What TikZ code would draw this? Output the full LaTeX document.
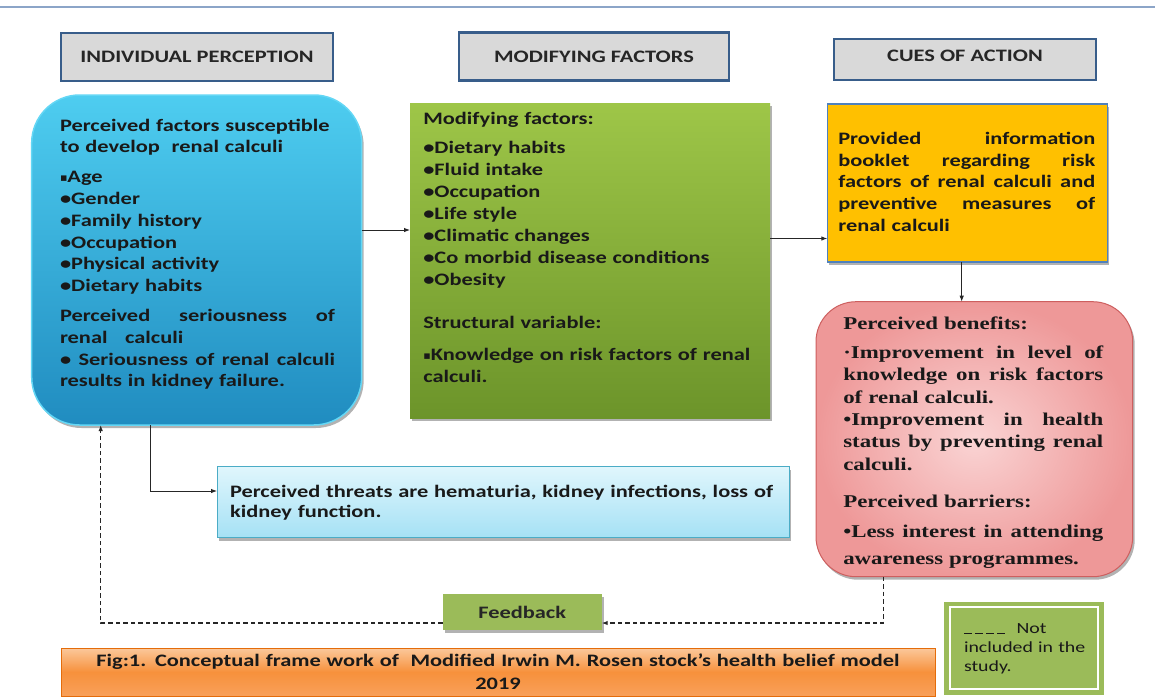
\documentclass[tikz,border=0pt]{standalone}
\usepackage{fontspec}
\usetikzlibrary{shadows,arrows.meta}
\newfontfamily\calfont{Carlito}[FakeStretch=1.28]
\newfontfamily\tmsfont{Liberation Serif}[FakeStretch=1.27]
\newfontfamily\dvfont{DejaVu Sans}
\newcommand\sqb{{\dvfont\fontsize{11}{11}\selectfont\raisebox{1pt}{▪}}}
\newcommand\jst[2]{{\spaceskip=0.25em plus 1fil\relax\xspaceskip=\spaceskip\makebox[#1][s]{#2}}}
\newcommand\usc{\rule[-1pt]{7.5pt}{1.1pt}}
\definecolor{hdrfill}{RGB}{217,217,217}
\definecolor{hdrline}{RGB}{56,93,138}
\definecolor{blueTop}{RGB}{78,205,240}
\definecolor{blueBot}{RGB}{32,140,192}
\definecolor{blueLine}{RGB}{100,215,245}
\definecolor{greenTop}{RGB}{158,198,72}
\definecolor{greenBot}{RGB}{108,148,42}
\definecolor{orangeFill}{RGB}{255,192,0}
\definecolor{orangeLine}{RGB}{79,129,189}
\definecolor{pinkIn}{RGB}{250,212,212}
\definecolor{pinkOut}{RGB}{238,152,152}
\definecolor{pinkLine}{RGB}{205,95,95}
\definecolor{thrTop}{RGB}{224,246,252}
\definecolor{thrBot}{RGB}{165,225,245}
\definecolor{thrLine}{RGB}{75,172,198}
\definecolor{fbFill}{RGB}{155,187,89}
\definecolor{capTop}{RGB}{251,200,155}
\definecolor{capMid}{RGB}{247,145,60}
\definecolor{capBot}{RGB}{248,160,90}
\definecolor{capLine}{RGB}{228,108,10}
\definecolor{topLine}{RGB}{140,165,200}
\tikzset{
  shp/.style={inner sep=0pt, outer sep=0pt, anchor=north west},
  shd/.style={drop shadow={shadow xshift=2pt, shadow yshift=-3pt, opacity=.3, fill=black}},
  hdr/.style={shp, fill=hdrfill, draw=hdrline, line width=2.2pt,
    font=\calfont\bfseries\fontsize{17.5}{21}\selectfont, text=black!85},
  bluebox/.style={shp, shd, rounded corners=48pt, top color=blueTop, bottom color=blueBot, draw=blueLine, line width=1.5pt},
  greenbox/.style={shp, shd, top color=greenTop, bottom color=greenBot},
  orangebox/.style={shp, shd, fill=orangeFill, draw=orangeLine, line width=1.5pt},
  pinkbox/.style={shp, shd, rounded corners=40pt, inner color=pinkIn, outer color=pinkOut, draw=pinkLine, line width=1pt},
  threatbox/.style={shp, shd, top color=thrTop, bottom color=thrBot, draw=thrLine, line width=1pt},
  fbbox/.style={shp, shd, fill=fbFill, font=\calfont\bfseries\fontsize{17.5}{21}\selectfont, text=black!85},
  capbox/.style={shp, top color=capTop, bottom color=capBot, middle color=capMid, draw=capLine, line width=1pt},
  legbox/.style={shp, fill=fbFill},
  txt/.style={anchor=base west, inner sep=0pt, outer sep=0pt, align=left, text=black!90,
    font=\calfont\bfseries\fontsize{17.5}{21.8}\selectfont},
  arr/.style={draw=black!85, line width=0.9pt, -{Latex[length=6pt,width=4.5pt]}},
  dsh/.style={draw=black!85, line width=1.2pt, dash pattern=on 4.5pt off 3pt, -{Latex[length=6pt,width=4.5pt]}},
}
\begin{document}
\begin{tikzpicture}[x=1pt,y=-1pt]
\useasboundingbox (0,0) rectangle (1155,697);
\fill[white] (0,0) rectangle (1155,697);
\draw[topLine, line width=1.6pt] (0,7) -- (1155,7);

% headers
\node[hdr, minimum width=272pt, minimum height=48pt] (h1) at (61,32.7) {INDIVIDUAL PERCEPTION};
\node[hdr, minimum width=270pt, minimum height=48pt] (h2) at (459,32.5) {MODIFYING FACTORS};
\node[hdr, minimum width=262pt, minimum height=41pt, text depth=6.6pt] (h3) at (834,39) {CUES OF ACTION};

% main boxes
\node[bluebox, minimum width=330pt, minimum height=330pt] (blue) at (31.7,95) {};
\node[greenbox, minimum width=360pt, minimum height=315pt] (green) at (410,103.3) {};
\node[orangebox, minimum width=280pt, minimum height=158pt] (orange) at (827.3,104) {};
\node[pinkbox, minimum width=316.7pt, minimum height=275pt] (pink) at (816,301.7) {};
\node[threatbox, minimum width=572pt, minimum height=71pt] (threat) at (217,466.7) {};
\node[fbbox, minimum width=159pt, minimum height=36pt] (fb) at (442.7,594) {Feedback};
\node[capbox, minimum width=873.3pt, minimum height=48pt] (cap) at (61.7,648) {};
\node[legbox, minimum width=159.7pt, minimum height=93.3pt] (leg) at (944.3,601.7) {};
\node[shp, draw=white, line width=2pt, minimum width=148.3pt, minimum height=82pt] (leginner) at (950,607.3) {};

% texts
\node[txt, text width=277pt] (bluetxt) at (60,131) {Perceived factors susceptible\\
to develop\ \ renal calculi\\[8pt]
\sqb Age\\
•Gender\\
•Family history\\
•Occupation\\
•Physical activity\\
•Dietary habits\\[8pt]
\jst{275pt}{Perceived seriousness of}\\
renal\ \ \ calculi\\
\jst{275pt}{• Seriousness of renal calculi}\\
results in kidney failure.};

\node[txt, text width=340pt, font=\calfont\bfseries\fontsize{17.5}{22}\selectfont] (greentxt) at (423.3,124.3) {Modifying factors:\\[7pt]
•Dietary habits\\
•Fluid intake\\
•Occupation\\
•Life style\\
•Climatic changes\\
•Co morbid disease conditions\\
•Obesity\\[21pt]
Structural variable:\\[10pt]
\sqb Knowledge on risk factors of renal\\
calculi.};

\node[txt, text width=258pt] (orangetxt) at (838.3,144.3) {\jst{257pt}{Provided information}\\
\jst{257pt}{booklet regarding risk}\\
\jst{257pt}{factors of renal calculi and}\\
\jst{257pt}{preventive measures of}\\
renal calculi};

\node[txt, text width=262pt, font=\tmsfont\bfseries\fontsize{18}{22.3}\selectfont] (pinktxt) at (843.3,329.3) {Perceived benefits:\\[7pt]
\jst{260pt}{·Improvement in level of}\\
\jst{260pt}{knowledge on risk factors}\\
of renal calculi.\\
\jst{260pt}{•Improvement in health}\\
\jst{260pt}{status by preventing renal}\\
calculi.\\[15pt]
Perceived barriers:\\[8pt]
\jst{260pt}{•Less interest in attending}\\[4.5pt]
awareness programmes.};

\node[txt, text width=560pt, font=\calfont\bfseries\fontsize{17.5}{20.5}\selectfont] (threattxt) at (230,497) {Perceived threats are hematuria, kidney infections, loss of\\
kidney function.};

\node[txt, anchor=base, align=center, text width=860pt, font=\calfont\bfseries\fontsize{17.5}{23}\selectfont] (captxt) at (498,666) {Fig:1. Conceptual frame work of\ \ Modified Irwin M. Rosen stock’s health belief model\\
2019};

\node[txt, text width=140pt, font=\calfont\fontsize{15.5}{19}\selectfont] (legtxt) at (964,633) {\usc\hspace{3.5pt}\usc\hspace{3.5pt}\usc\hspace{3.5pt}\usc\hspace{12pt}Not\\
included in the\\
study.};

% connectors
\coordinate (y1) at (0,230);
\coordinate (y2) at (0,238.5);
\coordinate (x3) at (961.7,0);
\coordinate (tc) at (150,491);
\coordinate (dl) at (100.7,623);
\coordinate (dr) at (883.3,623);
\draw[arr] (blue.east |- y1) -- (green.west |- y1);
\draw[arr] (green.east |- y2) -- (orange.west |- y2);
\draw[arr] (orange.south -| x3) -- (pink.north -| x3);
\draw[arr] (blue.south -| tc) -- (tc) -- (threat.west |- tc);
\draw[dsh] (pink.south -| dr) -- (dr) -- (fb.east |- dr);
\draw[dsh] (fb.west |- dl) -- (dl) -- (blue.south -| dl);
\end{tikzpicture}
\end{document}
